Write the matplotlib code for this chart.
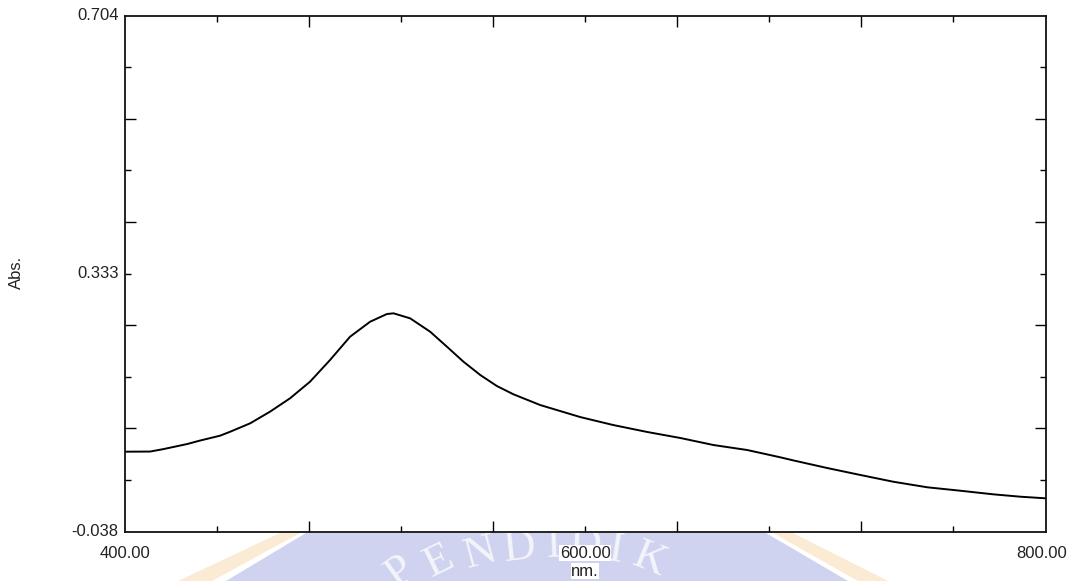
import matplotlib
matplotlib.use("Agg")
import matplotlib.pyplot as plt
import matplotlib.transforms as mtransforms
from matplotlib.patches import Polygon

# ---- data ----
wavelength_nm = [400.0, 410.9, 416.5, 427.0, 432.6, 441.3, 445.7, 454.4, 463.0,
                 471.7, 480.4, 489.1, 497.8, 506.5, 513.8, 516.7, 523.9, 532.6,
                 539.9, 547.1, 554.4, 561.6, 568.8, 580.4, 597.8, 612.2, 627.0,
                 641.3, 655.7, 670.4, 684.8, 690.4, 705.2, 719.6, 733.9, 748.7,
                 763.0, 777.4, 789.1, 800.0]
absorbance = [0.0770, 0.0772, 0.0806, 0.0880, 0.0930, 0.1000, 0.1057, 0.1178, 0.1345,
              0.1537, 0.1776, 0.2088, 0.2423, 0.2638, 0.2749, 0.2759, 0.2687, 0.2495,
              0.2279, 0.2063, 0.1872, 0.1714, 0.1595, 0.1441, 0.1268, 0.1153, 0.1053,
              0.0967, 0.0866, 0.0794, 0.0689, 0.0645, 0.0535, 0.0435, 0.0338, 0.0258,
              0.0209, 0.0157, 0.0123, 0.0100]

x_limits = [400.0, 800.0]
y_limits = [-0.038, 0.704]
x_tick_labels = ["400.00", "600.00", "800.00"]
x_label_values = [400.0, 600.0, 800.0]
y_tick_labels = ["-0.038", "0.333", "0.704"]
y_label_values = [-0.038, 0.333, 0.704]
x_label = "nm."
y_label = "Abs."
watermark_letters = list("PENDIDIK")

W, H = 1077, 581
plt.rcParams['font.family'] = ['Liberation Sans', 'DejaVu Sans']
fig = plt.figure(figsize=(W / 100, H / 100), dpi=100)

def fx(px):
    return px / W

def fy(py):
    return 1 - py / H

# ---- faint watermark below the plot ----
blue = '#d0d3f0'
orange = '#fcebd4'
fig.patches.append(Polygon([(fx(306), fy(533)), (fx(766), fy(533)), (fx(848), fy(581)), (fx(226), fy(581))],
                           closed=True, transform=fig.transFigure, facecolor=blue,
                           edgecolor='none', zorder=-3))
fig.patches.append(Polygon([(fx(280), fy(533)), (fx(300), fy(533)), (fx(212), fy(581)), (fx(178), fy(581))],
                           closed=True, transform=fig.transFigure, facecolor=orange,
                           edgecolor='none', zorder=-3))
fig.patches.append(Polygon([(fx(773), fy(533)), (fx(793), fy(533)), (fx(888), fy(581)), (fx(858), fy(581))],
                           closed=True, transform=fig.transFigure, facecolor=orange,
                           edgecolor='none', zorder=-3))
letter_pos = [(400, 572, 36), (439, 561, 26), (480, 553, 15), (520, 548, 6),
              (553, 546, 2), (585, 546, -3), (615, 550, -9), (650, 560, -22)]
for ch, (px, py, rot) in zip(watermark_letters, letter_pos):
    fig.text(fx(px), fy(py), ch, color='#f4f4fb', fontsize=32, family='Liberation Serif',
             rotation=rot, ha='center', va='center', zorder=-2)

# ---- axes ----
ax = fig.add_axes([fx(125), fy(531.7), fx(1045.5) - fx(125), fy(15.5) - fy(531.7)])
ax.set_facecolor('white')
ax.plot(wavelength_nm, absorbance, color='black', lw=1.4)
ax.set_xlim(*x_limits)
ax.set_ylim(*y_limits)

xspan = x_limits[1] - x_limits[0]
yspan = y_limits[1] - y_limits[0]
ax.set_xticks([x_limits[0] + xspan * k / 5 for k in range(1, 5)])
ax.set_xticks([x_limits[0] + xspan * (2 * k + 1) / 10 for k in range(5)], minor=True)
ax.set_yticks([y_limits[0] + yspan * k / 5 for k in range(1, 5)])
ax.set_yticks([y_limits[0] + yspan * (2 * k + 1) / 10 for k in range(5)], minor=True)
ax.tick_params(which='both', direction='in', top=True, right=True,
               labelbottom=False, labelleft=False, color='black', width=1.0)
ax.tick_params(which='major', length=8)
ax.tick_params(which='minor', length=4)
for s in ax.spines.values():
    s.set_linewidth(1.3)
    s.set_color('#111111')

tc = '#222222'
fs = 12
for lab, v in zip(y_tick_labels, y_label_values):
    ax.text(-0.007, (v - y_limits[0]) / yspan, lab, transform=ax.transAxes,
            ha='right', va='center', fontsize=fs, color=tc)
blend = mtransforms.blended_transform_factory(ax.transAxes, fig.transFigure)
for lab, v in zip(x_tick_labels, x_label_values):
    ax.text((v - x_limits[0]) / xspan - (0.004 if v == x_limits[1] else 0), fy(553), lab,
            transform=blend, ha='center', va='center', fontsize=fs, color=tc,
            bbox=dict(facecolor='white', edgecolor='none', pad=0.5))
fig.text(fx(585), fy(571), x_label, ha='center', va='center', fontsize=fs, color=tc,
         zorder=3, bbox=dict(facecolor='white', edgecolor='none', pad=0.5))
fig.text(fx(16), fy(272), y_label, ha='center', va='center', fontsize=fs, color=tc, rotation=90)

fig.savefig('out.png', dpi=100)
